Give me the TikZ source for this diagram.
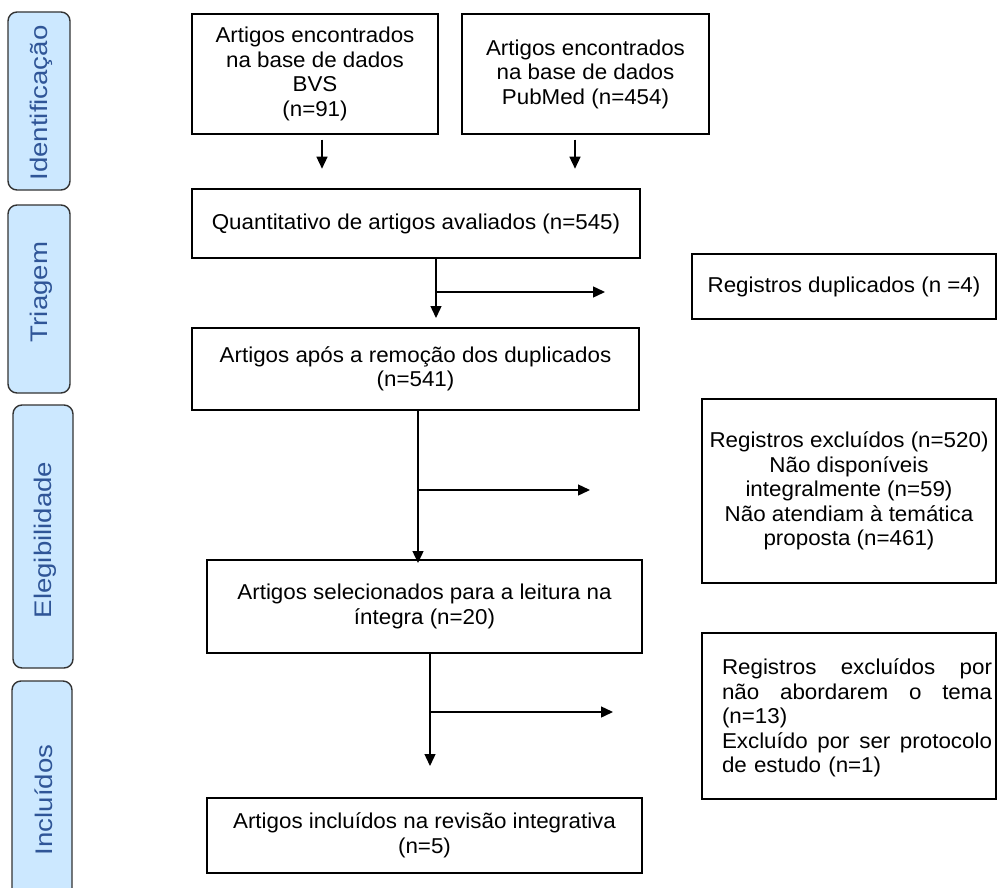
\documentclass[tikz,border=0pt]{standalone}
\usepackage{fontspec}
\setmainfont{Liberation Sans}[FakeStretch=1.04]
\newfontfamily\sidefont{Liberation Sans}[FakeStretch=1.15]
\usetikzlibrary{arrows.meta,calc}
\definecolor{sidefill}{HTML}{CCE8FF}
\definecolor{sidetext}{HTML}{2F5597}
\definecolor{sideline}{HTML}{333333}
\newcommand{\jline}[1]{\leavevmode\hbox to 270pt{#1}}
\begin{document}
\begin{tikzpicture}[x=1pt,y=-1pt,
  box/.style={draw=black,line width=1.4pt,rectangle,inner sep=0pt,align=center,
    font=\fontsize{21.5}{24.5}\selectfont},
  side/.style={draw=sideline,fill=sidefill,line width=1.4pt,rounded corners=9pt},
  sidelabel/.style={rotate=90,text=sidetext,inner sep=0pt,
    font=\sidefont\fontsize{24}{26}\selectfont},
  arr/.style={line width=1.4pt,-{Triangle[length=12pt,width=11pt]}}]
\path[use as bounding box] (0,0) rectangle (998,888);
\clip (0,0) rectangle (998,888);
\fill[white] (0,0) rectangle (998,888);

% side bars
\draw[side] (8,12) rectangle (70,190);
\node[sidelabel] (lid) at (41,103) {Identificação};
\draw[side] (8,205) rectangle (70,393);
\node[sidelabel] (ltr) at (41,292) {Triagem};
\draw[side] (13,405) rectangle (73,668);
\node[sidelabel] (lel) at (45,540) {Elegibilidade};
\draw[side] (12,681) rectangle (72,940);
\node[sidelabel] (lin) at (44,800) {Incluídos};

% boxes
\node[box,minimum width=246pt,minimum height=120pt] (bvs) at (315,74)
  {Artigos encontrados\\na base de dados\\BVS\\(n=91)};
\node[box,minimum width=247pt,minimum height=120pt] (pub) at (585.5,74)
  {Artigos encontrados\\na base de dados\\PubMed (n=454)};
\node[box,minimum width=448pt,minimum height=69pt] (quant) at (416,223.5)
  {Quantitativo de artigos avaliados (n=545)};
\node[box,minimum width=447pt,minimum height=82pt] (apos) at (415.5,369)
  {Artigos após a remoção dos duplicados\\(n=541)};
\node[box,minimum width=304pt,minimum height=65pt] (dup) at (844,286.5)
  {Registros duplicados (n =4)};
\node[box,minimum width=294pt,minimum height=184pt] (exc) at (849,491)
  {Registros excluídos (n=520)\\Não disponíveis\\integralmente (n=59)\\Não atendiam à temática\\proposta (n=461)};
\node[box,minimum width=435pt,minimum height=93pt] (sel) at (424.5,606.5)
  {Artigos selecionados para a leitura na\\íntegra (n=20)};
\node[draw=black,line width=1.4pt,minimum width=294pt,minimum height=166pt] (exc2) at (849,716) {};
\node[align=left,text width=270pt,inner sep=0pt,font=\fontsize{21.5}{24.5}\selectfont] (exc2t) at (857,718)
  {\jline{Registros\hfill excluídos\hfill por}\\
   \jline{não\hfill abordarem\hfill o\hfill tema}\\
   (n=13)\\
   \jline{Excluído\hfill por\hfill ser\hfill protocolo}\\
   de estudo (n=1)};
\node[box,minimum width=435pt,minimum height=75pt] (inc) at (424.5,835.5)
  {Artigos incluídos na revisão integrativa\\(n=5)};

% arrow coordinates
\coordinate (b1s) at ($(bvs.south)+(7,5)$);
\coordinate (b1e) at ($(bvs.south)+(7,34)$);
\coordinate (p1s) at ($(pub.south)+(-10.5,5)$);
\coordinate (p1e) at ($(pub.south)+(-10.5,34)$);
\coordinate (q1s) at (quant.south -| 436,0);
\coordinate (q1e) at (436,318);
\coordinate (q1b) at (436,292);
\coordinate (q1r) at (605,292);
\coordinate (a1s) at (apos.south -| 418,0);
\coordinate (a1e) at (418,563);
\coordinate (a1b) at (418,490);
\coordinate (a1r) at (590,490);
\coordinate (s1s) at (sel.south -| 430,0);
\coordinate (s1e) at (430,766);
\coordinate (s1b) at (430,712);
\coordinate (s1r) at (613,712);

\draw[arr] (b1s) -- (b1e);
\draw[arr] (p1s) -- (p1e);
\draw[arr] (q1s) -- (q1e);
\draw[arr] (q1b) -- (q1r);
\draw[arr] (a1s) -- (a1e);
\draw[arr] (a1b) -- (a1r);
\draw[arr] (s1s) -- (s1e);
\draw[arr] (s1b) -- (s1r);
\end{tikzpicture}
\end{document}
